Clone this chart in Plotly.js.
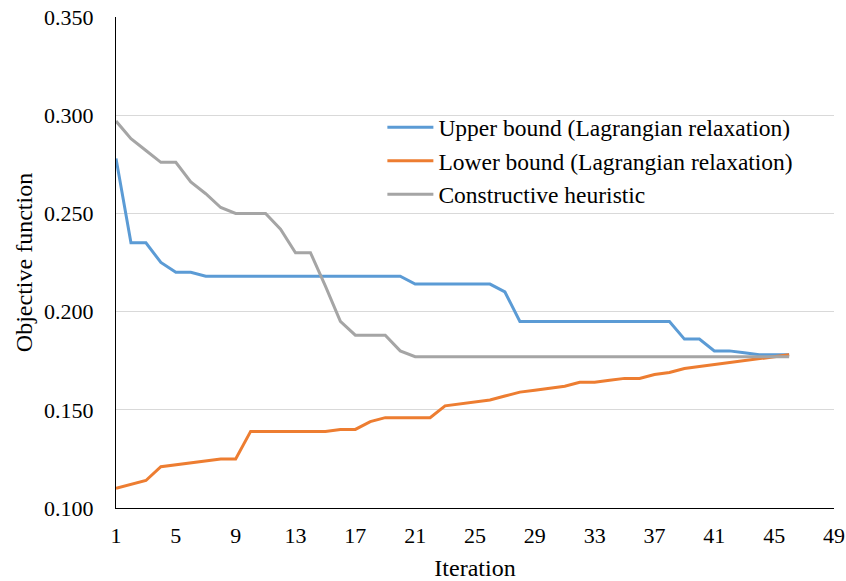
<!DOCTYPE html>
<html>
<head>
<meta charset="utf-8">
<script src="https://cdn.plot.ly/plotly-3.0.1.min.js"></script>
<style>
html, body { margin: 0; padding: 0; background: #ffffff; }
#chart { width: 846px; height: 581px; }
</style>
</head>
<body>
<div id="chart"></div>
<script>
const iterations = [1,2,3,4,5,6,7,8,9,10,11,12,13,14,15,16,17,18,19,20,21,22,23,24,25,26,27,28,29,30,31,32,33,34,35,36,37,38,39,40,41,42,43,44,45,46];

const upperBound = [0.278,0.235,0.235,0.225,0.220,0.220,0.218,0.218,0.218,0.218,
  0.218,0.218,0.218,0.218,0.218,0.218,0.218,0.218,0.218,0.218,
  0.214,0.214,0.214,0.214,0.214,0.214,0.210,0.195,0.195,0.195,
  0.195,0.195,0.195,0.195,0.195,0.195,0.195,0.195,0.186,0.186,
  0.180,0.180,0.179,0.178,0.178,0.178];

const lowerBound = [0.110,0.112,0.114,0.121,0.122,0.123,0.124,0.125,0.125,0.139,
  0.139,0.139,0.139,0.139,0.139,0.140,0.140,0.144,0.146,0.146,
  0.146,0.146,0.152,0.153,0.154,0.155,0.157,0.159,0.160,0.161,
  0.162,0.164,0.164,0.165,0.166,0.166,0.168,0.169,0.171,0.172,
  0.173,0.174,0.175,0.176,0.177,0.178];

const heuristic = [0.297,0.288,0.282,0.276,0.276,0.266,0.260,0.253,0.250,0.250,
  0.250,0.242,0.230,0.230,0.213,0.195,0.188,0.188,0.188,0.180,
  0.177,0.177,0.177,0.177,0.177,0.177,0.177,0.177,0.177,0.177,
  0.177,0.177,0.177,0.177,0.177,0.177,0.177,0.177,0.177,0.177,
  0.177,0.177,0.177,0.177,0.177,0.177];

const seriesNames = ["Upper bound (Lagrangian relaxation)", "Lower bound (Lagrangian relaxation)", "Constructive heuristic"];
const seriesColors = ["#5B9BD5", "#ED7D31", "#A5A5A5"];
const xTickVals = [1,5,9,13,17,21,25,29,33,37,41,45,49];
const yTickVals = [0.100,0.150,0.200,0.250,0.300,0.350];

const FONT = 'Liberation Serif, serif';

const seriesValues = [upperBound, lowerBound, heuristic];
const traces = seriesValues.map((vals, i) => ({
  type: 'scatter',
  mode: 'lines',
  x: iterations,
  y: vals,
  name: seriesNames[i],
  line: { color: seriesColors[i], width: 3 },
  hoverinfo: 'x+y+name'
}));

const layout = {
  width: 846,
  height: 581,
  margin: { l: 116, r: 12, t: 17, b: 73, pad: 0 },
  paper_bgcolor: '#ffffff',
  plot_bgcolor: '#ffffff',
  font: { family: FONT, size: 22, color: '#000000' },
  showlegend: true,
  legend: {
    x: 0.371, y: 0.82, xanchor: 'left', yanchor: 'top',
    bgcolor: 'rgba(0,0,0,0)', borderwidth: 0,
    font: { family: FONT, size: 23.5, color: '#000000' },
    itemwidth: 46
  },
  xaxis: {
    range: [1, 49],
    tickmode: 'array',
    tickvals: xTickVals,
    ticktext: xTickVals.map(String),
    showgrid: false,
    zeroline: false,
    showline: true,
    linecolor: '#000000',
    linewidth: 1,
    ticks: '',
    ticklen: 0,
    ticklabelstandoff: 8,
    tickfont: { family: FONT, size: 22, color: '#000000' },
    title: { text: 'Iteration', font: { family: FONT, size: 24, color: '#000000' }, standoff: 11 },
    automargin: false
  },
  yaxis: {
    range: [0.1, 0.35],
    tickmode: 'array',
    tickvals: yTickVals,
    ticktext: yTickVals.map(v => v.toFixed(3)),
    showgrid: true,
    gridcolor: '#D9D9D9',
    gridwidth: 1,
    zeroline: false,
    showline: true,
    linecolor: '#000000',
    linewidth: 1,
    ticks: '',
    ticklen: 0,
    ticklabelstandoff: 17,
    tickfont: { family: FONT, size: 22, color: '#000000' },
    title: { text: 'Objective function', font: { family: FONT, size: 24, color: '#000000' }, standoff: 4 },
    automargin: false
  }
};

Plotly.newPlot('chart', traces, layout, { displayModeBar: false, staticPlot: true });
</script>
</body>
</html>
